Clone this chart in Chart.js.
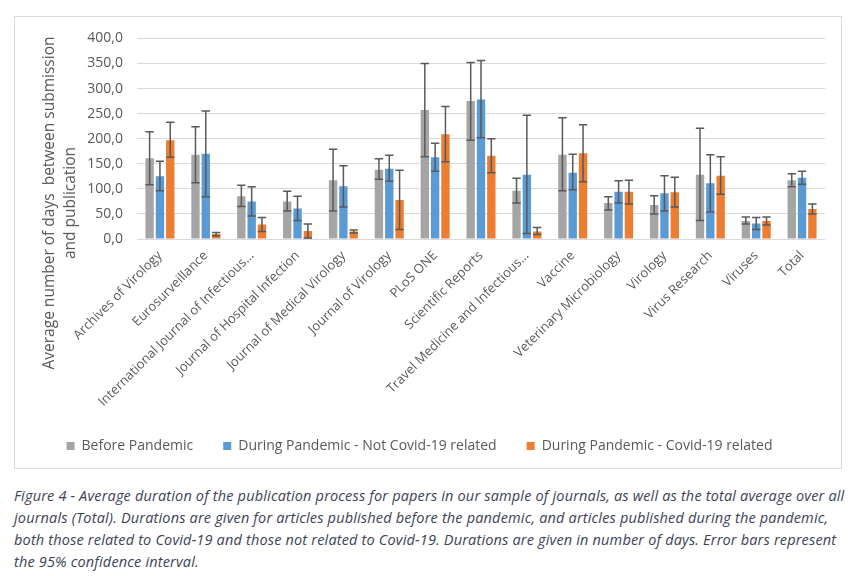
<!DOCTYPE html>
<html>
<head>
<meta charset="utf-8">
<script src="https://cdn.jsdelivr.net/npm/chart.js@4.4.1/dist/chart.umd.min.js"></script>
<style>
  body { margin: 0; background: #fff; width: 862px; height: 576px; position: relative; overflow: hidden; font-family: "Open Sans", sans-serif; }
  #box { position: absolute; left: 14px; top: 16px; width: 828px; height: 453px; border: 1px solid #d9d9d9; box-sizing: border-box; }
  #wrap { position: absolute; left: 14px; top: 16px; width: 829px; height: 454px; }
  #ytitle { position: absolute; left: 59px; top: 203px; width: 380px; transform: translate(-50%, -50%) rotate(-90deg);
    text-align: center; font-size: 15.5px; line-height: 21px; color: #595959; white-space: pre; }
  #caption { position: absolute; left: 14px; top: 485px; font-style: italic; font-size: 14.5px; line-height: 22px;
    color: #3b4256; white-space: nowrap; letter-spacing: 0.17px; }
</style>
</head>
<body>
<div id="box"></div>
<div id="wrap"><canvas id="chart"></canvas></div>
<div id="ytitle">Average number of days  between submission
and publication</div>
<div id="caption">Figure 4 - Average duration of the publication process for papers in our sample of journals, as well as the total average over all<br>journals (Total). Durations are given for articles published before the pandemic, and articles published during the pandemic,<br>both those related to Covid-19 and those not related to Covid-19. Durations are given in number of days. Error bars represent<br>the 95% confidence interval.</div>
<script>
// Journals (x axis)
const journals = [
    'Archives of Virology', 'Eurosurveillance', 'International Journal of Infectious…',
    'Journal of Hospital Infection', 'Journal of Medical Virology', 'Journal of Virology',
    'PLoS ONE', 'Scientific Reports', 'Travel Medicine and Infectious…', 'Vaccine',
    'Veterinary Microbiology', 'Virology', 'Virus Research', 'Viruses', 'Total'
];

// Mean durations (days)
const beforePandemic = [161, 168, 85, 75, 117, 138, 257, 275, 96, 168, 72, 68, 128, 36, 117];
const notCovid       = [125, 170, 75, 61, 105, 140, 163, 278, 128, 132, 94, 91, 111, 31, 122];
const covid          = [197, 10, 29, 16, 15, 78, 209, 166, 15, 171, 94, 93, 126, 36, 60];

// 95% confidence intervals
const beforeLow  = [108, 112, 65, 56, 56, 119, 164, 197, 72, 96, 58, 50, 37, 30, 104];
const beforeHigh = [214, 224, 107, 95, 179, 160, 350, 352, 121, 242, 84, 86, 221, 44, 130];
const notCovidLow  = [96, 84, 46, 37, 64, 115, 135, 202, 11, 98, 72, 56, 54, 19, 109];
const notCovidHigh = [155, 255, 104, 85, 146, 167, 191, 356, 247, 169, 116, 126, 168, 43, 135];
const covidLow  = [163, 6, 15, 2, 12, 19, 154, 132, 9, 114, 70, 64, 89, 28, 50];
const covidHigh = [233, 13, 43, 30, 18, 137, 264, 200, 23, 228, 117, 123, 164, 44, 70];

// Y axis ticks
const yMax = 400;
const yStep = 50;

const textColor = '#595959';
const gridColor = '#d9d9d9';

// Draw the confidence interval whiskers on top of each bar
const errorBarPlugin = {
    id: 'errorBars',
    afterDatasetsDraw(chart) {
        const ctx = chart.ctx;
        const yScale = chart.scales.y;
        ctx.save();
        ctx.strokeStyle = '#595959';
        ctx.lineWidth = 1.5;
        chart.data.datasets.forEach((ds, i) => {
            const meta = chart.getDatasetMeta(i);
            meta.data.forEach((bar, j) => {
                const top = yScale.getPixelForValue(ds.errHigh[j]);
                const bottom = yScale.getPixelForValue(ds.errLow[j]);
                const half = bar.width / 2;
                ctx.beginPath();
                ctx.moveTo(bar.x, top);
                ctx.lineTo(bar.x, bottom);
                ctx.moveTo(bar.x - half, top);
                ctx.lineTo(bar.x + half, top);
                ctx.moveTo(bar.x - half, bottom);
                ctx.lineTo(bar.x + half, bottom);
                ctx.stroke();
            });
        });
        ctx.restore();
    }
};

new Chart(document.getElementById('chart'), {
    type: 'bar',
    data: {
        labels: journals,
        datasets: [{
            label: 'Before Pandemic',
            data: beforePandemic,
            errLow: beforeLow,
            errHigh: beforeHigh,
            backgroundColor: '#a5a5a5'
        }, {
            label: 'During Pandemic - Not Covid-19 related',
            data: notCovid,
            errLow: notCovidLow,
            errHigh: notCovidHigh,
            backgroundColor: '#5b9bd5'
        }, {
            label: 'During Pandemic - Covid-19 related',
            data: covid,
            errLow: covidLow,
            errHigh: covidHigh,
            backgroundColor: '#ed7d31'
        }]
    },
    options: {
        responsive: true,
        maintainAspectRatio: false,
        animation: false,
        categoryPercentage: 0.675,
        barPercentage: 0.81,
        layout: { padding: { top: 21, right: 18, left: 0, bottom: 7 } },
        plugins: {
            legend: {
                position: 'bottom',
                labels: {
                    boxWidth: 8,
                    boxHeight: 8,
                    padding: 30,
                    color: textColor,
                    font: { family: 'Open Sans', size: 14 }
                }
            },
            tooltip: { enabled: false }
        },
        scales: {
            x: {
                grid: { display: false },
                border: { display: false },
                ticks: {
                    autoSkip: false,
                    maxRotation: 45,
                    minRotation: 45,
                    padding: 1,
                    color: textColor,
                    font: { family: 'Open Sans', size: 13 }
                },
                afterFit(scale) { scale.height = 170; }
            },
            y: {
                min: 0,
                max: yMax,
                grid: { color: gridColor, lineWidth: 1, drawTicks: false },
                border: { display: false },
                ticks: {
                    stepSize: yStep,
                    padding: 14,
                    color: textColor,
                    font: { family: 'Open Sans', size: 14 },
                    callback: v => v.toFixed(1).replace('.', ',')
                },
                afterFit(scale) { scale.width = 123; }
            }
        }
    },
    plugins: [errorBarPlugin]
});
</script>
</body>
</html>
